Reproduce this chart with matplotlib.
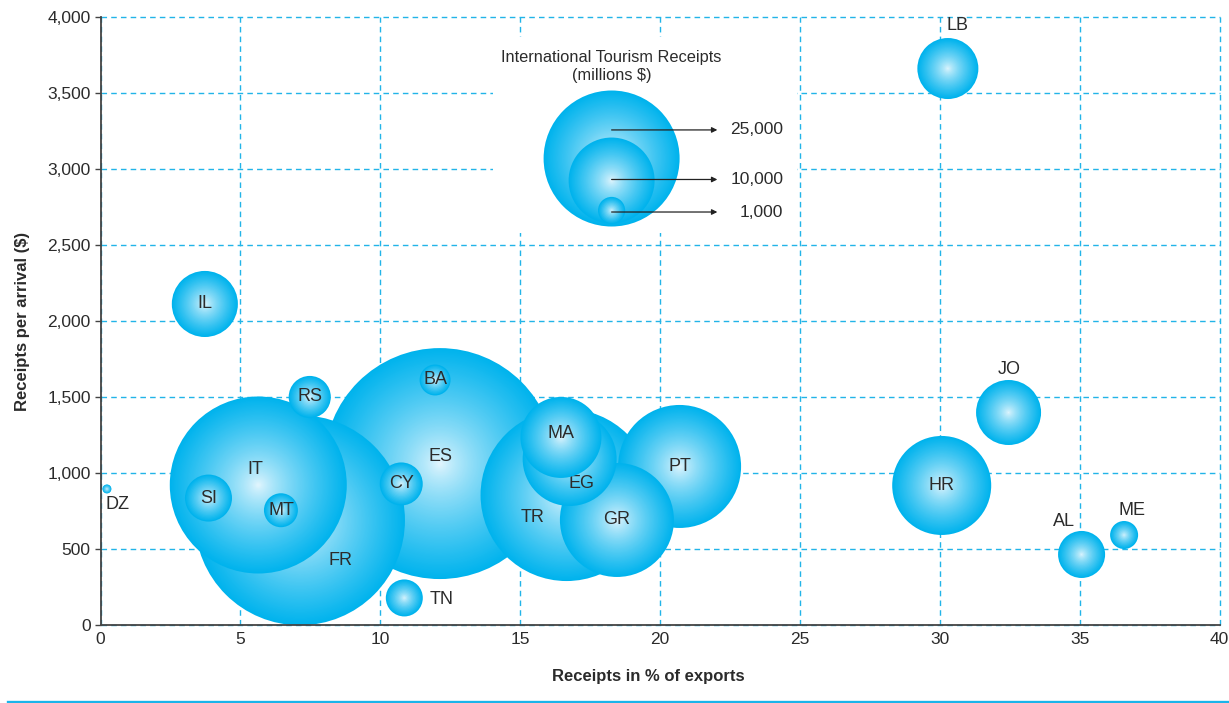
import numpy as np
import matplotlib
matplotlib.use("Agg")
import matplotlib.pyplot as plt
from matplotlib.patches import Rectangle
from matplotlib.lines import Line2D
from matplotlib.ticker import FuncFormatter

# data
countries = ["DZ", "IL", "RS", "IT", "FR", "ES", "BA", "CY", "SI", "MT", "TN",
             "TR", "EG", "MA", "GR", "PT", "LB", "JO", "HR", "AL", "ME"]
receipts_pct_exports = [0.23, 3.73, 7.48, 5.64, 7.13, 12.13, 11.96, 10.75, 3.86, 6.45, 10.86,
                        16.66, 16.77, 16.46, 18.46, 20.70, 30.29, 32.46, 30.07, 35.07, 36.59]
receipts_per_arrival = [897, 2114, 1502, 923, 691, 1064, 1614, 930, 837, 757, 180,
                        857, 1094, 1236, 693, 1045, 3663, 1400, 920, 466, 594]
receipts_musd = [110, 5900, 2400, 42350, 59600, 72100, 1300, 2500, 2990, 1560, 1850,
                 40000, 11940, 8870, 17570, 20450, 5030, 5710, 13250, 2990, 1060]

legend_values = [25000, 10000, 1000]
legend_labels = ["25,000", "10,000", "1,000"]

# label offsets from bubble centre, in pixels (right, down)
label_offsets = {"DZ": (11, 16), "IT": (-3, -16), "FR": (41, 40), "ES": (1, -7),
                 "TN": (37, 2), "EG": (12, 24), "TR": (-34, 22), "LB": (10, -43),
                 "JO": (1, -43), "AL": (-18, -33), "ME": (8, -25), "MA": (0, -4)}

DPI = 100
PX_PER_SQRT = 68 / np.sqrt(25000)
EDGE = np.array([0x00, 0xB3, 0xED]) / 255
CENTER = np.array([0xEA, 0xF8, 0xFE]) / 255
TEXT = "#2b2b2b"
CYAN = "#22b4e8"

plt.rcParams["font.family"] = ["Liberation Sans", "DejaVu Sans"]

fig = plt.figure(figsize=(12.29, 7.03), dpi=DPI)
ax = fig.add_axes([100.5 / 1229, 77.7 / 703, 1119 / 1229, 608 / 703])


def bubble(x, y, value, z):
    r_px = PX_PER_SQRT * np.sqrt(value)
    n = max(12, int(r_px / 1.2))
    f = np.linspace(1, 0.02, n)
    sizes = (2 * r_px * f * 72 / DPI) ** 2
    g = f ** 0.75
    cols = CENTER + (EDGE - CENTER) * g[:, None]
    ax.scatter(np.full(n, x), np.full(n, y), s=sizes, c=cols, linewidths=0,
               zorder=z, clip_on=False)


# biggest first so small bubbles sit on top
order = np.argsort(receipts_musd)[::-1]
for k, i in enumerate(order):
    z = 2 + k * 0.1
    bubble(receipts_pct_exports[i], receipts_per_arrival[i], receipts_musd[i], z)
    dx, dy = label_offsets.get(countries[i], (0, 0))
    ax.annotate(countries[i], (receipts_pct_exports[i], receipts_per_arrival[i]),
                xytext=(dx * 0.72, -dy * 0.72), textcoords="offset points",
                ha="center", va="center", fontsize=13, color=TEXT, zorder=z + 0.05)

# legend block
ax.add_patch(Rectangle((14.02, 2581), 10.88, 1289, facecolor="white",
                       edgecolor="none", zorder=0.8))
leg_x = 18.27
leg_centres = [3071, 2926, 2729]
arrow_y = [3259, 2933, 2719]
for k, (v, yc) in enumerate(zip(legend_values, leg_centres)):
    bubble(leg_x, yc, v, 10 + k)
for lab, ya in zip(legend_labels, arrow_y):
    ax.annotate("", xy=(22.05, ya), xytext=(leg_x, ya),
                arrowprops=dict(arrowstyle="-|>", color="#222222", lw=0.9,
                                mutation_scale=8, shrinkA=0, shrinkB=0),
                zorder=20)
    ax.text(24.41, ya, lab, ha="right", va="center", fontsize=12.5, color=TEXT, zorder=20)
ax.text(leg_x, 3675, "International Tourism Receipts\n(millions $)", ha="center",
        va="center", fontsize=11.8, color=TEXT, linespacing=1.25, zorder=20)

ax.set_xlim(0, 40)
ax.set_ylim(0, 4000)
ax.set_xticks(range(0, 41, 5))
ax.set_yticks(range(0, 4001, 500))
ax.yaxis.set_major_formatter(FuncFormatter(lambda v, p: f"{int(v):,}"))
ax.tick_params(axis="x", length=0, pad=5, labelsize=12.5, labelcolor=TEXT)
ax.tick_params(axis="y", length=4, width=1, pad=3, labelsize=12.5, labelcolor=TEXT, color="#444444")
ax.grid(True, color=CYAN, linestyle=(0, (4, 3)), lw=1)
ax.set_axisbelow(True)
for gl in ax.get_xgridlines() + ax.get_ygridlines():
    gl.set_clip_on(False)
for s in ["top", "right"]:
    ax.spines[s].set_visible(False)
for s in ["left", "bottom"]:
    ax.spines[s].set_color("#444444")
    ax.spines[s].set_linewidth(1.3)
    ax.spines[s].set_zorder(30)

ax.set_xlabel("Receipts in % of exports", fontsize=12, fontweight="bold", color=TEXT)
ax.xaxis.set_label_coords(0.49, -0.072)
ax.set_ylabel("Receipts per arrival ($)", fontsize=12, fontweight="bold", color=TEXT)
ax.yaxis.set_label_coords(-0.063, 0.5)

fig.add_artist(Line2D([8 / 1229, 1], [1.5 / 703, 1.5 / 703], color="#1ab4ea", lw=2.4))

fig.savefig("out.png", dpi=DPI)
